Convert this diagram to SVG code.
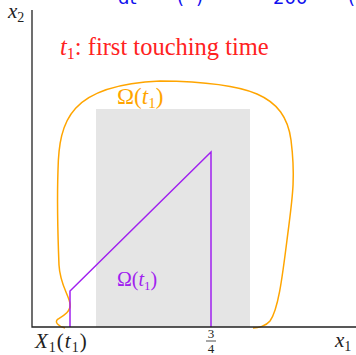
<svg xmlns="http://www.w3.org/2000/svg" width="356" height="355" viewBox="0 0 356 355">
<style>
.i{font-style:italic;}
.ax{stroke:#222;stroke-width:1.3;fill:none;}
.pur{stroke:#a020f0;stroke-width:1.5;fill:none;}
.org{stroke:#ffa500;stroke-width:1.5;fill:none;}
</style>
<rect width="356" height="355" fill="#fff"/>
<g id="title" font-family="DejaVu Sans, sans-serif" font-size="18" fill="#1010ee">
<text x="118" y="4" font-family="DejaVu Sans, sans-serif">dt</text>
<text x="177" y="4" font-family="DejaVu Sans, sans-serif">(</text>
<text x="196" y="4" font-family="DejaVu Sans, sans-serif">)</text>
<text x="273" y="4" font-family="DejaVu Sans, sans-serif">200</text>
<text x="348" y="4" font-family="DejaVu Sans, sans-serif">(</text>
</g>
<g id="square"><rect x="96" y="109" width="154" height="218" fill="#e5e5e5"/></g>
<g id="connectors">
<path class="org" d="M65,328 C58,326 54,322 58,319 C63,316 71,312 70,304 C69,295 60,285 59,265 C58,240 57,200 58,170 C59,120 70,85 160,81 C250,82 285,95 291,140 C296,180 292,200 287,240 C282,280 278,310 270,321 C266,326 258,328 253,328"/>
<polyline class="pur" points="70,327 70,291 211,152 211,327"/>
<path class="ax" d="M32,10 V327 H356"/>
</g>
<g id="labels">
<text x="8" y="18" font-size="21" fill="#222" font-family="Liberation Serif, serif"><tspan class="i">x</tspan><tspan font-size="14" dy="4">2</tspan></text>
<text x="60" y="55" font-size="24.5" fill="#f22" font-family="Liberation Serif, serif"><tspan class="i">t</tspan><tspan font-size="16" dy="4">1</tspan><tspan dy="-4">: first touching time</tspan></text>
<text x="117" y="104" font-size="23" fill="#ffa500" font-family="Liberation Serif, serif">Ω(<tspan class="i">t</tspan><tspan font-size="15" dy="4">1</tspan><tspan dy="-4">)</tspan></text>
<text x="117" y="286" font-size="20" fill="#a020f0" font-family="Liberation Serif, serif">Ω(<tspan class="i">t</tspan><tspan font-size="13" dy="4">1</tspan><tspan dy="-4">)</tspan></text>
<text x="35" y="348" font-size="21" letter-spacing="1" fill="#222" font-family="Liberation Serif, serif"><tspan class="i">X</tspan><tspan font-size="14" dy="4">1</tspan><tspan dy="-4">(</tspan><tspan class="i">t</tspan><tspan font-size="14" dy="4">1</tspan><tspan dy="-4">)</tspan></text>
<text x="211" y="338" font-size="13" text-anchor="middle" fill="#222" font-family="Liberation Serif, serif">3</text>
<line x1="206" y1="341" x2="216" y2="341" stroke="#222" stroke-width="0.8"/>
<text x="211" y="353" font-size="13" text-anchor="middle" fill="#222" font-family="Liberation Serif, serif">4</text>
<text x="335" y="347" font-size="21" fill="#222" font-family="Liberation Serif, serif"><tspan class="i">x</tspan><tspan font-size="14" dy="4">1</tspan></text>
</g>
</svg>
